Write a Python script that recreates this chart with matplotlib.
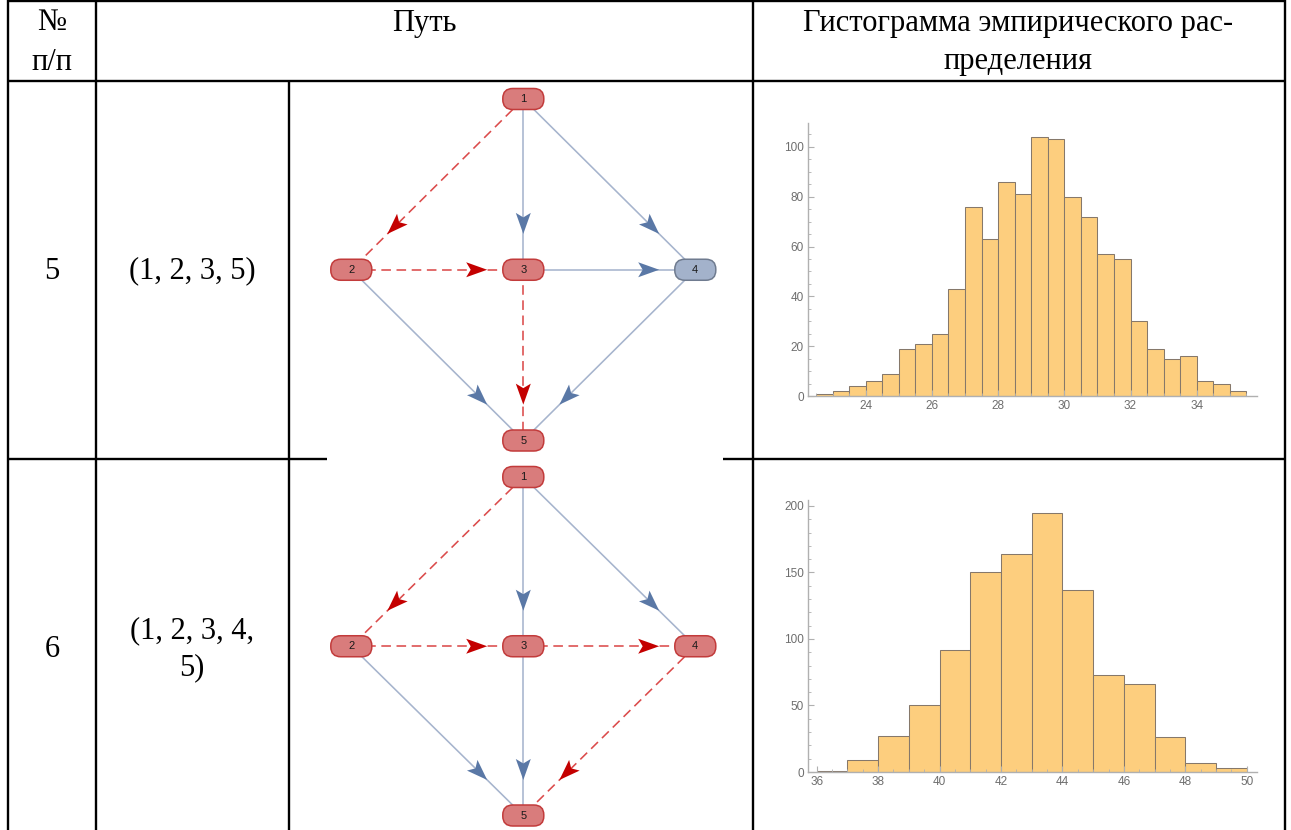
import matplotlib
matplotlib.use('Agg')
import matplotlib.pyplot as plt
import numpy as np
from matplotlib.patches import FancyBboxPatch, Polygon
from matplotlib.ticker import MultipleLocator

W, H = 1291, 830
fig = plt.figure(figsize=(W / 100, H / 100), dpi=100)

# ---------------- data ----------------
header_num = ['№', 'п/п']
header_path = 'Путь'
header_hist = ['Гистограмма эмпирического рас-', 'пределения']
row_numbers = ['5', '6']
path_labels = [['(1, 2, 3, 5)'], ['(1, 2, 3, 4,', '5)']]
paths = [[1, 2, 3, 5], [1, 2, 3, 4, 5]]

node_ids = [1, 2, 3, 4, 5]
node_x = [0, -1, 0, 1, 0]
node_y = [2, 1, 1, 1, 0]
graph_edges = [(1, 2), (1, 3), (1, 4), (2, 3), (2, 5), (3, 4), (3, 5), (4, 5)]

hist1_edges = [22.5, 23.0, 23.5, 24.0, 24.5, 25.0, 25.5, 26.0, 26.5, 27.0, 27.5, 28.0, 28.5,
               29.0, 29.5, 30.0, 30.5, 31.0, 31.5, 32.0, 32.5, 33.0, 33.5, 34.0, 34.5, 35.0, 35.5]
hist1_counts = [1, 2, 4, 6, 9, 19, 21, 25, 43, 76, 63, 86, 81,
                104, 103, 80, 72, 57, 55, 30, 19, 15, 16, 6, 5, 2]
hist1_xticks = [24, 26, 28, 30, 32, 34]
hist1_yticks = [0, 20, 40, 60, 80, 100]

hist2_edges = [36, 37, 38, 39, 40, 41, 42, 43, 44, 45, 46, 47, 48, 49, 50]
hist2_counts = [1, 9, 27, 50, 92, 150, 164, 195, 137, 73, 66, 26, 7, 3]
hist2_xticks = [36, 38, 40, 42, 44, 46, 48, 50]
hist2_yticks = [0, 50, 100, 150, 200]

# ---------------- table ----------------
SERIF = ['Liberation Serif', 'DejaVu Serif']
FS = 22
ax_t = fig.add_axes([0, 0, 1, 1], zorder=0)
ax_t.set_xlim(0, W)
ax_t.set_ylim(H, 0)
ax_t.axis('off')

LW = 1.7
def hline(y, x0, x1):
    ax_t.plot([x0, x1], [y, y], color='black', lw=LW, solid_capstyle='butt')
def vline(x, y0, y1):
    ax_t.plot([x, x], [y0, y1], color='black', lw=LW, solid_capstyle='butt')

hline(1.5, 7, 1285)
hline(81, 7, 1285)
hline(459, 7, 327)
hline(459, 723, 1285)
vline(7.5, 0, H)
vline(96, 0, H)
vline(753, 0, H)
vline(1285, 0, H)
vline(289, 81, H)

ax_t.text(52, 22, header_num[0], ha='center', va='center', fontsize=FS, family=SERIF)
ax_t.text(52, 62, header_num[1], ha='center', va='center', fontsize=FS, family=SERIF)
ax_t.text(424, 23, header_path, ha='center', va='center', fontsize=FS, family=SERIF)
ax_t.text(1018, 23, header_hist[0], ha='center', va='center', fontsize=FS, family=SERIF)
ax_t.text(1018, 62, header_hist[1], ha='center', va='center', fontsize=FS, family=SERIF)

row_centers = [271, 649]
for rc, num, lab in zip(row_centers, row_numbers, path_labels):
    ax_t.text(52, rc, num, ha='center', va='center', fontsize=FS, family=SERIF)
    n = len(lab)
    for i, line in enumerate(lab):
        yy = rc + (i - (n - 1) / 2) * 37
        ax_t.text(192, yy, line, ha='center', va='center', fontsize=FS, family=SERIF)

# ---------------- graphs ----------------
BLUE_LINE = '#a6b4cd'
BLUE_HEAD = '#5a78a6'
RED_LINE = '#db4b4b'
RED_HEAD = '#c40000'
NODE_RED_FC = '#d97c7c'
NODE_RED_EC = '#c23b3b'
NODE_GREY_FC = '#a3b2cb'
NODE_GREY_EC = '#6f7b8f'


def draw_graph(px_left, px_right, px_top, px_bottom, cx, sx, y0px, sy, path):
    ax = fig.add_axes([px_left / W, 1 - px_bottom / H, (px_right - px_left) / W,
                       (px_bottom - px_top) / H], zorder=2)
    ax.set_xlim((px_left - cx) / sx, (px_right - cx) / sx)
    ax.set_ylim(-(px_bottom - y0px) / sy, (y0px - px_top) / sy)
    ax.axis('off')
    ax.add_patch(plt.Rectangle((0, 0), 1, 1, transform=ax.transAxes, fc='white', ec='none', zorder=0))
    pos = {n: (x, y) for n, x, y in zip(node_ids, node_x, node_y)}
    path_edges = set(zip(path[:-1], path[1:]))
    L, HW, NOTCH = 21.0, 7.5, 4.5
    for a, b in graph_edges:
        xa, ya = pos[a]
        xb, yb = pos[b]
        red = (a, b) in path_edges
        if red:
            ax.plot([xa, xb], [ya, yb], color=RED_LINE, lw=1.15, ls=(0, (6, 3.5)), zorder=1)
        else:
            ax.plot([xa, xb], [ya, yb], color=BLUE_LINE, lw=1.15, zorder=1)
        dxp, dyp = (xb - xa) * sx, (yb - ya) * sy
        d = np.hypot(dxp, dyp)
        ux, uy = dxp / d, dyp / d
        nx, ny = -uy, ux
        tx = xa + 0.79 * (xb - xa)
        ty = ya + 0.79 * (yb - ya)
        pts_px = [(0, 0),
                  (-L * ux + HW * nx, -L * uy + HW * ny),
                  (-(L - NOTCH) * ux, -(L - NOTCH) * uy),
                  (-L * ux - HW * nx, -L * uy - HW * ny)]
        pts = [(tx + px / sx, ty + py / sy) for px, py in pts_px]
        ax.add_patch(Polygon(pts, closed=True, fc=RED_HEAD if red else BLUE_HEAD,
                             ec='none', zorder=2))
    w, h, r = 41 / sx, 21 / sy, 10 / sx
    for n in node_ids:
        x, y = pos[n]
        on = n in path
        ax.add_patch(FancyBboxPatch((x - w / 2, y - h / 2), w, h,
                                    boxstyle=f'round,pad=0,rounding_size={r}',
                                    fc=NODE_RED_FC if on else NODE_GREY_FC,
                                    ec=NODE_RED_EC if on else NODE_GREY_EC,
                                    lw=1.1, zorder=3))
        ax.text(x, y, str(n), ha='center', va='center', fontsize=8,
                family=['Liberation Sans', 'DejaVu Sans'], color='#1a1a1a', zorder=4)


draw_graph(327, 723, 83, 458, 523.3, 172.0, 440.5, 170.75, paths[0])
draw_graph(327, 723, 461, 830, 523.3, 172.0, 815.5, 169.25, paths[1])

# ---------------- histograms ----------------
BAR_FC = '#fdce7e'
BAR_EC = '#86786a'
AX_C = '#b0b0b0'


def draw_hist(l, t, r, b, edges, counts, xlim, ylim, xticks, yticks, xminor, yminor):
    ax = fig.add_axes([l / W, 1 - b / H, (r - l) / W, (b - t) / H], zorder=1)
    ax.patch.set_alpha(0)
    e = np.array(edges, dtype=float)
    ax.bar(e[:-1], counts, width=np.diff(e), align='edge', color=BAR_FC,
           edgecolor=BAR_EC, linewidth=0.75)
    ax.set_xlim(*xlim)
    ax.set_ylim(*ylim)
    for s in ['top', 'right']:
        ax.spines[s].set_visible(False)
    for s in ['left', 'bottom']:
        ax.spines[s].set_color(AX_C)
        ax.spines[s].set_linewidth(1.0)
    ax.set_xticks(xticks)
    ax.set_yticks(yticks)
    ax.xaxis.set_minor_locator(MultipleLocator(xminor))
    ax.yaxis.set_minor_locator(MultipleLocator(yminor))
    ax.tick_params(which='major', direction='in', length=4, width=0.8, color=AX_C,
                   labelsize=8.5, labelcolor='#6e6e6e', pad=3)
    ax.tick_params(which='minor', direction='in', length=2, width=0.6, color=AX_C)
    for lab in ax.get_xticklabels() + ax.get_yticklabels():
        lab.set_family(['Liberation Sans', 'DejaVu Sans'])


draw_hist(808, 123, 1257, 396, hist1_edges, hist1_counts, (22.26, 35.82), (0, 109.6),
          hist1_xticks, hist1_yticks, 0.5, 5)
draw_hist(808, 500, 1257, 772, hist2_edges, hist2_counts, (35.72, 50.33), (0, 204.5),
          hist2_xticks, hist2_yticks, 0.5, 10)

fig.savefig('out.png', dpi=100)
